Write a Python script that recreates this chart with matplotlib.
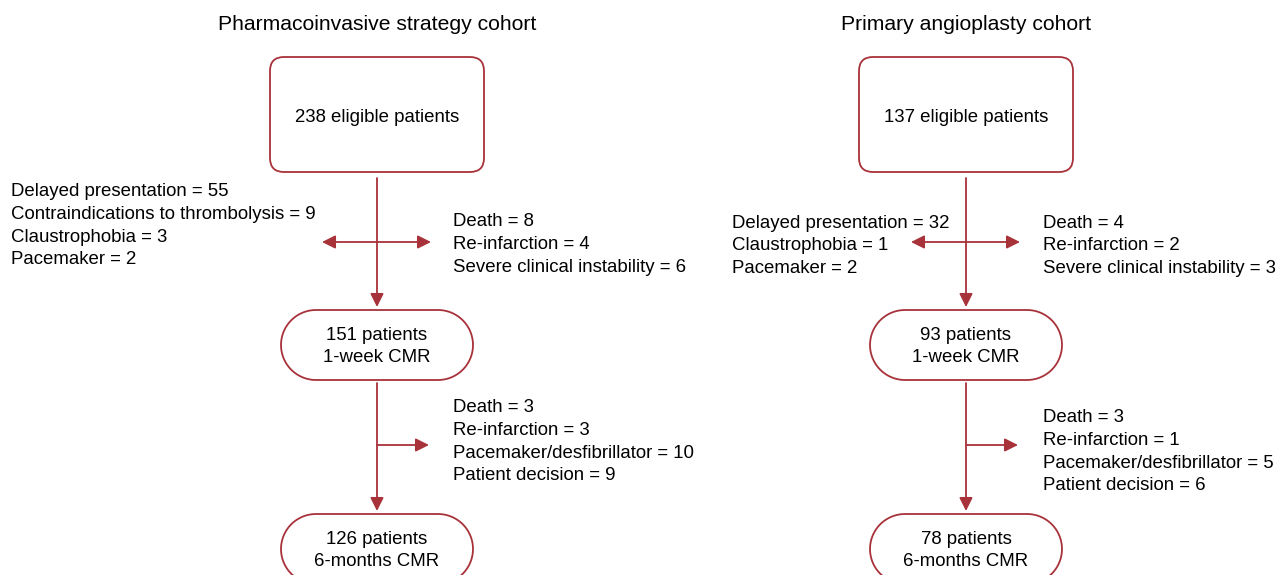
import numpy as np
import matplotlib.pyplot as plt
from matplotlib.patches import FancyBboxPatch, Polygon

plt.rcParams['font.family'] = ['Liberation Sans', 'DejaVu Sans']

RED = '#a8323a'

# cohort data
titles = ['Pharmacoinvasive strategy cohort', 'Primary angioplasty cohort']
eligible = [238, 137]
week_cmr = [151, 93]
month_cmr = [126, 78]

# exclusions before 1-week CMR (left side) and in-hospital events (right side)
pre_excl = [
    [('Delayed presentation', 55), ('Contraindications to thrombolysis', 9),
     ('Claustrophobia', 3), ('Pacemaker', 2)],
    [('Delayed presentation', 32), ('Claustrophobia', 1), ('Pacemaker', 2)],
]
events = [
    [('Death', 8), ('Re-infarction', 4), ('Severe clinical instability', 6)],
    [('Death', 4), ('Re-infarction', 2), ('Severe clinical instability', 3)],
]
followup_loss = [
    [('Death', 3), ('Re-infarction', 3), ('Pacemaker/desfibrillator', 10), ('Patient decision', 9)],
    [('Death', 3), ('Re-infarction', 1), ('Pacemaker/desfibrillator', 5), ('Patient decision', 6)],
]

# layout per cohort (pixel coords, y down)
centers = [377, 966]
pre_pos = [(11, 192), (732, 223)]
event_pos = [(453, 222), (1043, 223)]
loss_pos = [(453, 408), (1043, 418)]
FS = 13.4
LS = 22.6


def text_block(x, y, items):
    for k, (name, n) in enumerate(items):
        ax.text(x, y + k * LS, f'{name} = {n}', ha='left', va='center', fontsize=FS)


def pill(cx, ytop, w, h):
    r = h / 2
    t = np.linspace(-np.pi / 2, np.pi / 2, 40)
    right = np.column_stack([cx + w / 2 - r + r * np.cos(t), ytop + r + r * np.sin(t)])
    left = np.column_stack([cx - w / 2 + r - r * np.cos(t[::-1]), ytop + r + r * np.sin(t[::-1])])
    ax.add_patch(Polygon(np.vstack([right, left]), closed=True, fc='white', ec=RED, lw=1.3))


fig = plt.figure(figsize=(12.84, 5.75), dpi=100)
ax = fig.add_axes([0, 0, 1, 1])
ax.set_xlim(0, 1284)
ax.set_ylim(575, 0)
ax.axis('off')

arrow_kw = dict(arrowstyle='-|>', color=RED, lw=1.3, mutation_scale=20, shrinkA=0, shrinkB=0)
dbl_kw = dict(arrowstyle='<|-|>', color=RED, lw=1.3, mutation_scale=20, shrinkA=0, shrinkB=0)

for i in range(2):
    cx = centers[i]
    ax.text(cx, 25, titles[i], ha='center', va='center', fontsize=15.2)

    # top box
    ax.add_patch(FancyBboxPatch((cx - 107 + 14, 57 + 14), 214 - 28, 115 - 28,
                                boxstyle='round,pad=14', fc='white', ec=RED, lw=1.3))
    ax.text(cx, 117, f'{eligible[i]} eligible patients', ha='center', va='center', fontsize=FS)

    # pills
    for ytop, n, lab in [(310, week_cmr[i], '1-week CMR'), (514, month_cmr[i], '6-months CMR')]:
        pill(cx, ytop, 192, 70)
        ax.text(cx, ytop + 25, f'{n} patients', ha='center', va='center', fontsize=FS)
        ax.text(cx, ytop + 47, lab, ha='center', va='center', fontsize=FS)

    # vertical arrows
    ax.annotate('', xy=(cx, 307), xytext=(cx, 178), arrowprops=arrow_kw)
    ax.annotate('', xy=(cx, 511), xytext=(cx, 383), arrowprops=arrow_kw)

    # side arrows
    ax.annotate('', xy=(cx + 54, 242), xytext=(cx - 55, 242), arrowprops=dbl_kw)
    ax.annotate('', xy=(cx + 52, 445), xytext=(cx, 445), arrowprops=arrow_kw)

    text_block(*pre_pos[i], pre_excl[i])
    text_block(*event_pos[i], events[i])
    text_block(*loss_pos[i], followup_loss[i])

fig.savefig('out.png', dpi=100)
